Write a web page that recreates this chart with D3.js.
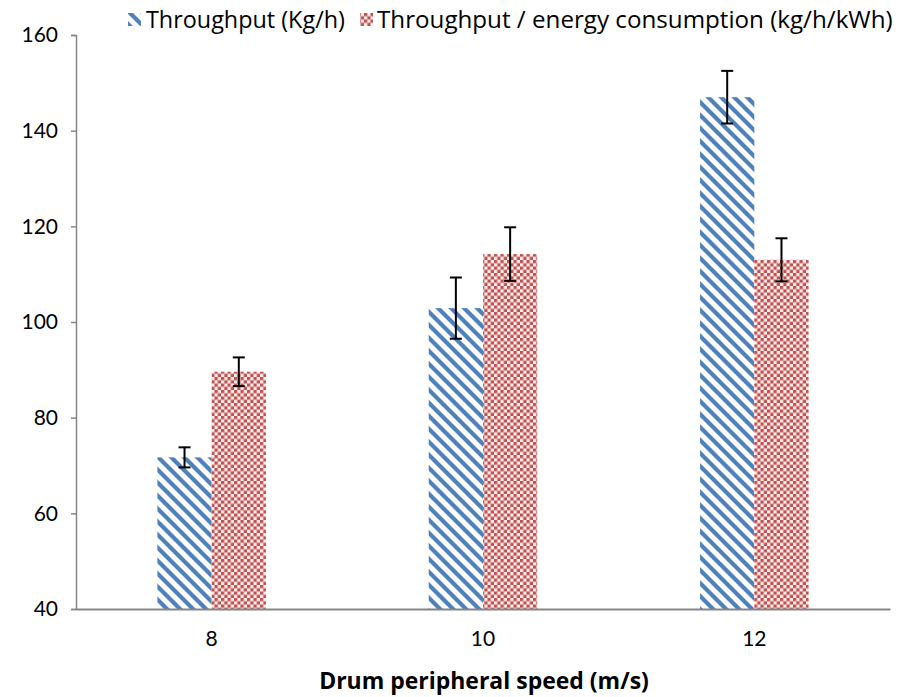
<!DOCTYPE html>
<html><head><meta charset="utf-8">
<script src="https://cdn.jsdelivr.net/npm/d3@7/dist/d3.min.js"></script>
<style>body{margin:0;background:#fff}svg{display:block}text{font-family:"Open Sans",Lato,sans-serif;fill:#000}</style>
</head><body><svg id="c" width="901" height="697"></svg>
<script>
const categories = ["8","10","12"];
const throughput = [71.7, 102.9, 147.0];
const throughputErr = [2.1, 6.4, 5.5];
const ratio = [89.6, 114.2, 113.0];
const ratioErr = [3.0, 5.6, 4.5];
const yTicks = [40,60,80,100,120,140,160];
const seriesNames = ["Throughput (Kg/h)","Throughput / energy consumption (kg/h/kWh)"];
const xTitle = "Drum peripheral speed (m/s)";

const svg = d3.select("#c");
const m = {l:76, r:11, t:35, b:88};
const W = 901, H = 697;
const x = d3.scaleBand().domain(categories).range([m.l, W-m.r]).padding(0);
const y = d3.scaleLinear().domain([40,160]).range([H-m.b, m.t]);
const bw = x.bandwidth()*0.2;

function fitText(sel, target){
  const w = sel.node().getComputedTextLength();
  const fs = parseFloat(sel.style("font-size"));
  sel.style("font-size", (fs*target/w)+"px");
}

const defs = svg.append("defs");
const ps = 13;
const pd = defs.append("pattern").attr("id","diag").attr("patternUnits","userSpaceOnUse")
  .attr("width",ps).attr("height",ps);
pd.append("rect").attr("width",ps).attr("height",ps).attr("fill","#fff");
pd.append("path").attr("d",`M0,0L${ps},${ps}M${-ps},0L${ps},${2*ps}M0,${-ps}L${2*ps},${ps}`)
  .attr("stroke","#4F81BD").attr("stroke-width",4.2);
const cs = 3.25;
const pc = defs.append("pattern").attr("id","check").attr("patternUnits","userSpaceOnUse")
  .attr("width",cs*2).attr("height",cs*2);
pc.append("rect").attr("width",cs*2).attr("height",cs*2).attr("fill","#fbeeee");
pc.append("rect").attr("width",cs).attr("height",cs).attr("fill","#C0504D");
pc.append("rect").attr("x",cs).attr("y",cs).attr("width",cs).attr("height",cs).attr("fill","#C0504D");

const series = [
  {vals:throughput, err:throughputErr, fill:"url(#diag)", off:-1},
  {vals:ratio, err:ratioErr, fill:"url(#check)", off:0}
];
series.forEach(s=>{
  const g = svg.append("g");
  g.selectAll("rect").data(categories).join("rect")
    .attr("x",(c)=>x(c)+x.bandwidth()/2+s.off*bw)
    .attr("width",bw)
    .attr("y",(c,i)=>y(s.vals[i]))
    .attr("height",(c,i)=>y(40)-y(s.vals[i]))
    .attr("fill",s.fill);
});
series.forEach(s=>{
  const g = svg.append("g").attr("stroke","#000").attr("stroke-width",2);
  categories.forEach((c,i)=>{
    const cx = x(c)+x.bandwidth()/2+s.off*bw+bw/2;
    const t = y(s.vals[i]+s.err[i]), b = y(s.vals[i]-s.err[i]);
    g.append("line").attr("x1",cx).attr("x2",cx).attr("y1",t).attr("y2",b);
    g.append("line").attr("x1",cx-6).attr("x2",cx+6).attr("y1",t).attr("y2",t);
    g.append("line").attr("x1",cx-6).attr("x2",cx+6).attr("y1",b).attr("y2",b);
  });
});

// y axis
const ya = svg.append("g").attr("transform",`translate(${m.l},0)`)
  .call(d3.axisLeft(y).tickValues(yTicks).tickSize(5).tickPadding(13).tickFormat(d3.format("d")));
ya.select(".domain").attr("stroke","#868686").attr("stroke-width",1.5);
ya.selectAll(".tick line").attr("stroke","#868686").attr("stroke-width",1.5);
ya.selectAll(".tick text").style("font-size","21px").style("font-family","Lato,'Open Sans',sans-serif").attr("fill","#000");

// x axis
const xa = svg.append("g").attr("transform",`translate(0,${H-m.b})`)
  .call(d3.axisBottom(x).tickSize(0).tickPadding(22));
xa.select(".domain").attr("stroke","#868686").attr("stroke-width",2);
xa.selectAll(".tick text").style("font-size","21px").style("font-family","Lato,'Open Sans',sans-serif").attr("fill","#000");

const xt = svg.append("text").attr("x",484).attr("y",689).attr("text-anchor","middle")
  .style("font-size","20px").style("font-weight","bold").text(xTitle);
fitText(xt, 330);

// legend
const lg = svg.append("g");
lg.append("rect").attr("x",128).attr("y",13).attr("width",13).attr("height",13).attr("fill","url(#diag)");
const l1 = lg.append("text").attr("x",146).attr("y",28).style("font-size","20px").text(seriesNames[0]);
fitText(l1, 199);
lg.append("rect").attr("x",360).attr("y",13).attr("width",13).attr("height",13).attr("fill","url(#check)");
const l2 = lg.append("text").attr("x",377).attr("y",28).style("font-size","20px").text(seriesNames[1]);
fitText(l2, 516);
</script></body></html>
